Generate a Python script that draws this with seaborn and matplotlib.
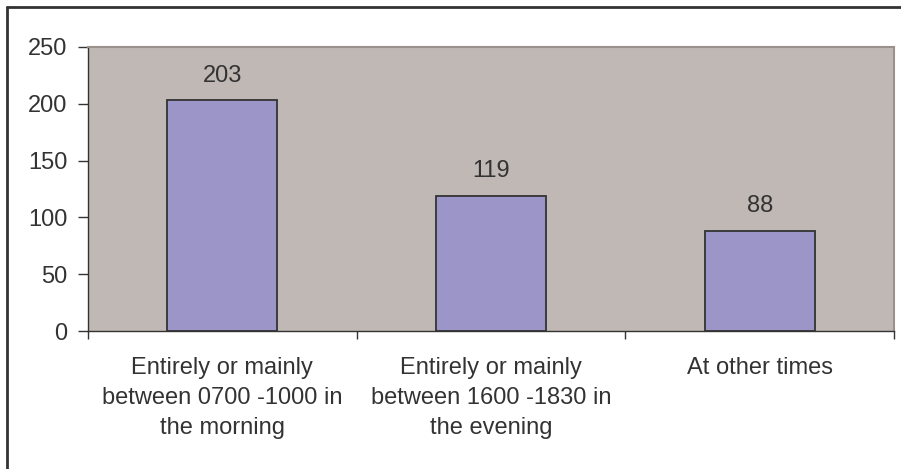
import matplotlib
matplotlib.use("Agg")
import matplotlib.pyplot as plt
import seaborn as sns
import pandas as pd
from matplotlib.lines import Line2D

categories = ["Entirely or mainly\nbetween 0700 -1000 in\nthe morning",
              "Entirely or mainly\nbetween 1600 -1830 in\nthe evening",
              "At other times"]
values = [203, 119, 88]
y_ticks = [0, 50, 100, 150, 200, 250]

df = pd.DataFrame({"cat": categories, "val": values})

sns.set_theme(style="white")
plt.rcParams['font.family'] = ['Liberation Sans', 'DejaVu Sans']

TEXT = "#333333"
FS = 17
fig = plt.figure(figsize=(9.01, 4.69), dpi=100)
ax = fig.add_axes([88/901, 1 - 331/469, (894-88)/901, (331-47)/469])
ax.set_facecolor("#C0B8B4")

sns.barplot(data=df, x="cat", y="val", color="#9B95C8", width=0.41,
            edgecolor="#333333", linewidth=1.3, saturation=1, ax=ax)

ax.set_ylim(0, 250)
ax.set_xlim(-0.5, 2.5)
ax.set_yticks(y_ticks)
ax.set_yticklabels([str(t) for t in y_ticks], fontsize=FS, color=TEXT)
ax.tick_params(axis="y", length=7, width=1, color="#333333", pad=8, left=True)

# x ticks at category boundaries, labels at centers
ax.set_xticks([-0.5, 0.5, 1.5, 2.5])
ax.set_xticklabels([])
ax.tick_params(axis="x", length=6, width=1, color="#333333", bottom=True)
for i, c in enumerate(categories):
    ax.text(i, -23, c, ha="center", va="top", fontsize=FS, color=TEXT,
            linespacing=1.47)

for i, v in enumerate(values):
    ax.text(i, v + 12, str(v), ha="center", va="bottom", fontsize=FS, color=TEXT)

ax.set_xlabel("")
ax.set_ylabel("")
for s in ["left", "bottom"]:
    ax.spines[s].set_color("#333333")
    ax.spines[s].set_linewidth(1)
for s in ["top", "right"]:
    ax.spines[s].set_color("#9A908C")
    ax.spines[s].set_linewidth(1.5)

# outer chart border (top and left visible)
fig.add_artist(Line2D([7/901, 1], [1 - 7/469, 1 - 7/469], transform=fig.transFigure,
                      color="#333333", linewidth=2))
fig.add_artist(Line2D([7/901, 7/901], [0, 1 - 7/469], transform=fig.transFigure,
                      color="#333333", linewidth=2))

fig.savefig("out.png", dpi=100)
